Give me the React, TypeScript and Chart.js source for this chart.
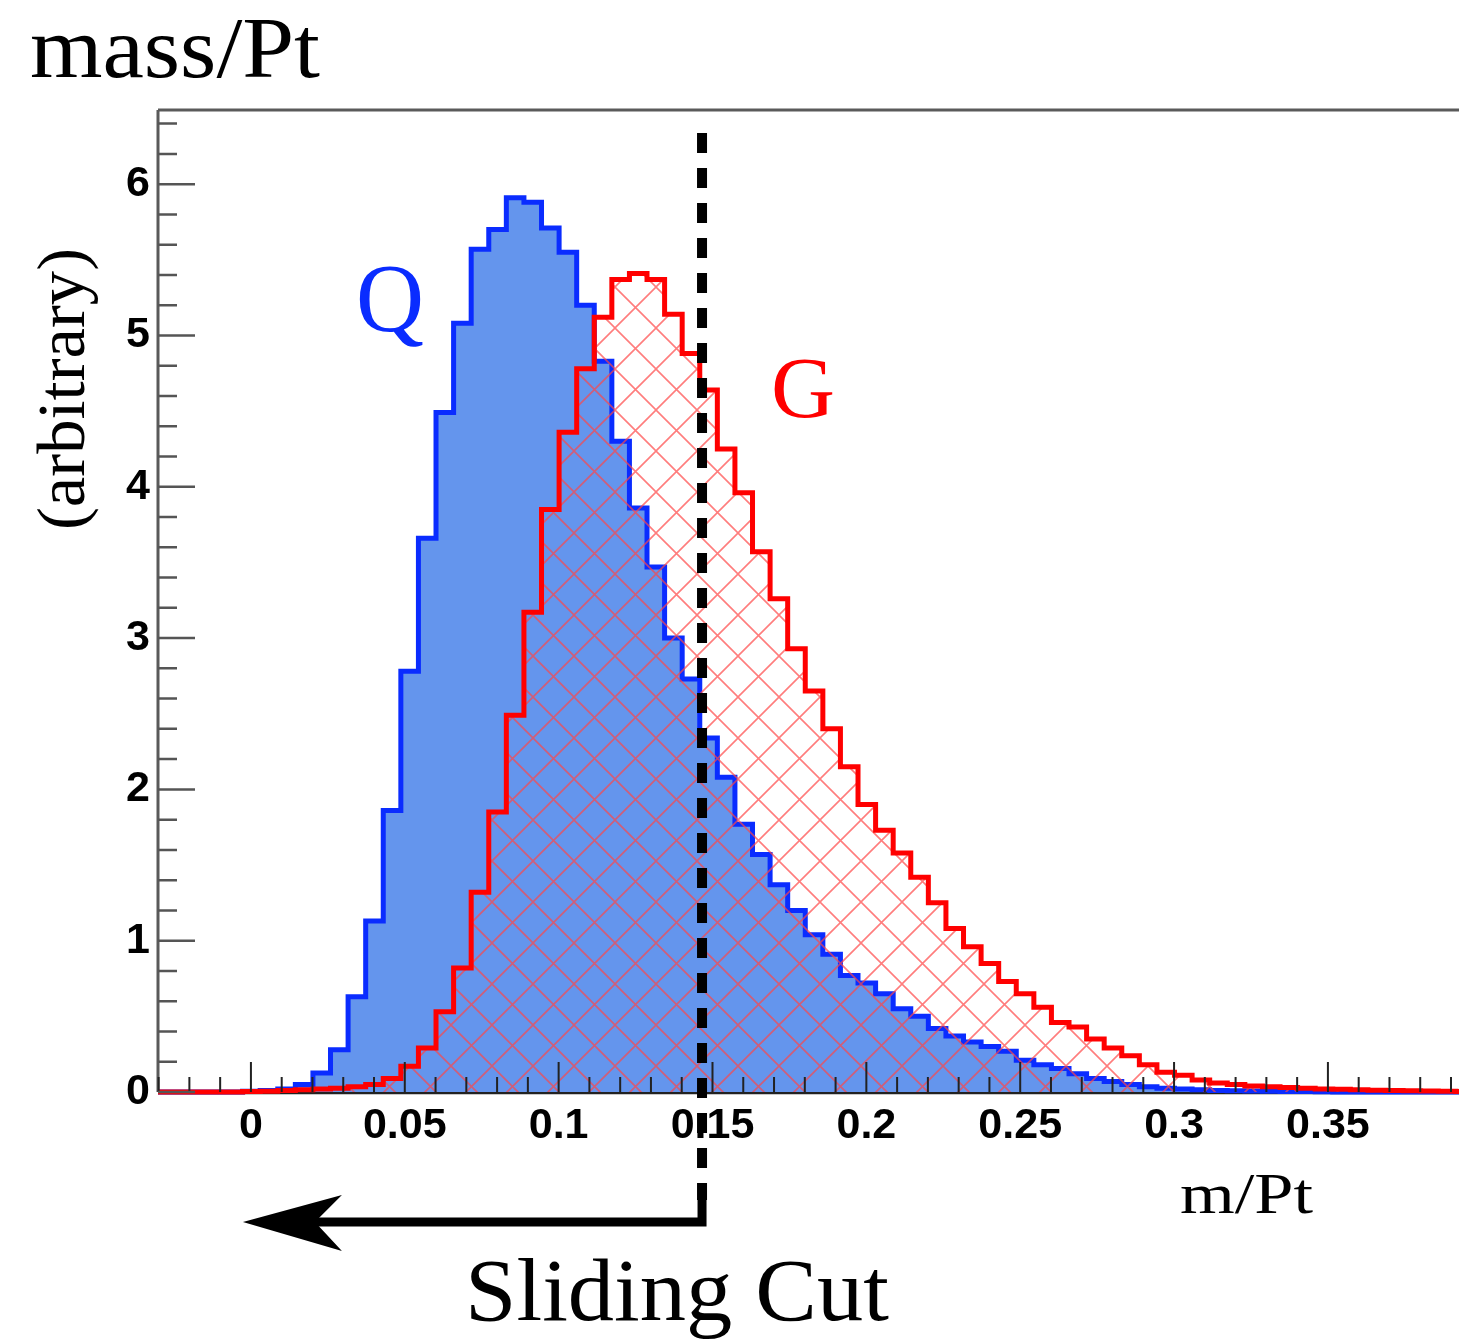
import React, { useEffect, useRef } from "react";
import { Chart, registerables } from "chart.js";

Chart.register(...registerables);

// ---- histogram binning ----
const BIN_WIDTH = 0.4 / 70;
const FIRST_EDGE = -0.03128;

// Q (quark) histogram, blue filled
const qValues = [
  0, 0, 0, 0, 0, 0.005, 0.01, 0.02, 0.05,
  0.125, 0.28, 0.63, 1.13, 1.86, 2.78, 3.66, 4.49, 5.08, 5.57,
  5.7, 5.91, 5.88, 5.71, 5.55, 5.2, 4.83, 4.3, 3.86, 3.47,
  3.0, 2.73, 2.34, 2.08, 1.77, 1.57, 1.37, 1.2, 1.04, 0.91,
  0.77, 0.72, 0.65, 0.55, 0.5, 0.42, 0.37, 0.33, 0.3, 0.27,
  0.21, 0.18, 0.155, 0.12, 0.09, 0.07, 0.05, 0.035, 0.025, 0.02,
  0.015, 0.01, 0.008, 0.006, 0.005, 0.004, 0.003, 0.002,
  0, 0, 0, 0, 0, 0, 0, 0,
];

// G (gluon) histogram, red hatched
const gValues = [
  0, 0, 0, 0, 0, 0.003, 0.005, 0.01, 0.015,
  0.02, 0.025, 0.035, 0.05, 0.09, 0.17, 0.29, 0.53, 0.82, 1.32,
  1.85, 2.49, 3.17, 3.85, 4.36, 4.78, 5.12, 5.37, 5.41, 5.37,
  5.14, 4.88, 4.64, 4.25, 3.96, 3.57, 3.26, 2.93, 2.65, 2.4,
  2.15, 1.9, 1.73, 1.58, 1.42, 1.25, 1.08, 0.96, 0.85, 0.73,
  0.65, 0.56, 0.46, 0.43, 0.35, 0.29, 0.24, 0.18, 0.13, 0.11,
  0.08, 0.06, 0.05, 0.04, 0.035, 0.03, 0.025, 0.02, 0.018, 0.015,
  0.012, 0.01, 0.008, 0.006, 0.005, 0.004,
];

const xTickLabels = [0, 0.05, 0.1, 0.15, 0.2, 0.25, 0.3, 0.35];
const yTickLabels = [0, 1, 2, 3, 4, 5, 6];

const X_MIN = -0.0302;
const X_MAX = 0.3926;
const Y_MIN = 0;
const Y_MAX = 6.49;

const CUT_VALUE = 0.1466;
const ARROW_TIP = -0.0026;

const W = 1459;
const H = 1341;

function histPoints(values: number[]) {
  const pts = values.map((v, i) => ({ x: FIRST_EDGE + i * BIN_WIDTH, y: v }));
  pts.push({ x: FIRST_EDGE + values.length * BIN_WIDTH, y: values[values.length - 1] });
  return pts;
}

function makeHatch(): CanvasPattern | string {
  const s = 41;
  const c = document.createElement("canvas");
  c.width = s;
  c.height = s;
  const g = c.getContext("2d");
  if (!g) return "rgba(255,0,0,0.2)";
  g.strokeStyle = "rgba(255,70,70,0.7)";
  g.lineWidth = 1.6;
  g.beginPath();
  for (const o of [-s, 0, s]) {
    g.moveTo(o, 0);
    g.lineTo(o + s, s);
    g.moveTo(o + s, 0);
    g.lineTo(o, s);
  }
  g.stroke();
  return g.createPattern(c, "repeat") || "rgba(255,0,0,0.2)";
}

function fitText(
  ctx: CanvasRenderingContext2D,
  text: string,
  x: number,
  y: number,
  font: string,
  color: string,
  width: number
) {
  ctx.save();
  ctx.font = font;
  const w = ctx.measureText(text).width;
  ctx.translate(x, y);
  ctx.scale(width / w, 1);
  ctx.fillStyle = color;
  ctx.textBaseline = "alphabetic";
  ctx.textAlign = "left";
  ctx.fillText(text, 0, 0);
  ctx.restore();
}

const frameTicksPlugin = {
  id: "frameTicks",
  beforeDatasetsDraw(chart: any) {
    const { ctx, chartArea: a } = chart;
    ctx.save();
    ctx.strokeStyle = "#5a5a5a";
    ctx.lineWidth = 3;
    ctx.beginPath();
    ctx.moveTo(a.left, a.top);
    ctx.lineTo(a.right, a.top);
    ctx.moveTo(a.left, a.top);
    ctx.lineTo(a.left, a.bottom);
    ctx.stroke();
    ctx.strokeStyle = "#222";
    ctx.lineWidth = 2.5;
    ctx.beginPath();
    ctx.moveTo(a.left, a.bottom + 1);
    ctx.lineTo(a.right, a.bottom + 1);
    ctx.stroke();
    ctx.restore();
  },
  afterDatasetsDraw(chart: any) {
    const { ctx, chartArea: a, scales } = chart;
    const xs = scales.x;
    const ys = scales.y;
    ctx.save();
    ctx.strokeStyle = "#222";
    ctx.lineWidth = 2;
    ctx.beginPath();
    for (let k = -3; k <= 39; k++) {
      const px = xs.getPixelForValue(k / 100);
      if (px < a.left - 0.5 || px > a.right) continue;
      const len = k % 5 === 0 ? 30 : 15;
      ctx.moveTo(px, a.bottom);
      ctx.lineTo(px, a.bottom - len);
    }
    ctx.stroke();
    ctx.strokeStyle = "#555";
    ctx.lineWidth = 2.5;
    ctx.beginPath();
    for (let k = 0; k <= 32; k++) {
      const py = ys.getPixelForValue(k * 0.2);
      if (py < a.top) continue;
      const len = k % 5 === 0 ? 37 : 19;
      ctx.moveTo(a.left, py);
      ctx.lineTo(a.left + len, py);
    }
    ctx.stroke();
    ctx.restore();
  },
  afterDraw(chart: any) {
    const { ctx, chartArea: a, scales } = chart;
    const xs = scales.x;
    const cutX = xs.getPixelForValue(CUT_VALUE);
    const tipX = xs.getPixelForValue(ARROW_TIP);
    const arrowY = 1222;

    ctx.save();
    // dashed cut line
    ctx.strokeStyle = "#000";
    ctx.lineWidth = 10;
    ctx.setLineDash([20, 15]);
    ctx.beginPath();
    ctx.moveTo(cutX, 133);
    ctx.lineTo(cutX, 1200);
    ctx.stroke();
    ctx.setLineDash([]);
    // corner + arrow shaft
    ctx.lineWidth = 9;
    ctx.lineCap = "butt";
    ctx.lineJoin = "miter";
    ctx.beginPath();
    ctx.moveTo(cutX, 1198);
    ctx.lineTo(cutX, arrowY);
    ctx.lineTo(tipX + 70, arrowY);
    ctx.stroke();
    // arrow head
    ctx.fillStyle = "#000";
    ctx.beginPath();
    ctx.moveTo(tipX, arrowY);
    ctx.lineTo(tipX + 99, arrowY - 27);
    ctx.lineTo(tipX + 72, arrowY);
    ctx.lineTo(tipX + 99, arrowY + 29);
    ctx.closePath();
    ctx.fill();
    ctx.restore();

    const serif = "'Liberation Serif', 'Times New Roman', serif";
    fitText(ctx, "mass/Pt", 30, 77, `86px ${serif}`, "#000", 290);
    fitText(ctx, "Sliding Cut", 465, 1320, `88px ${serif}`, "#000", 424);
    fitText(ctx, "m/Pt", 1180, 1213, `57px ${serif}`, "#000", 133);
    fitText(ctx, "Q", 356, 331, `98px ${serif}`, "#0a2cff", 68);
    fitText(ctx, "G", 771, 417, `86px ${serif}`, "#ff0000", 64);

    // rotated y title
    ctx.save();
    ctx.translate(84, 530);
    ctx.rotate(-Math.PI / 2);
    fitText(ctx, "(arbitrary)", 0, 0, `68px ${serif}`, "#000", 282);
    ctx.restore();
  },
};

export default function App() {
  const ref = useRef<HTMLCanvasElement | null>(null);

  useEffect(() => {
    const canvas = ref.current;
    if (!canvas) return;
    const hatch = makeHatch();
    const tickFont = { family: "'Liberation Sans', Arial, sans-serif", weight: "bold" as const, size: 43 };
    const chart = new Chart(canvas, {
      type: "line",
      data: {
        datasets: [
          {
            label: "Q",
            data: histPoints(qValues),
            borderColor: "#0a2cff",
            backgroundColor: "#6495ed",
            borderWidth: 5,
            fill: "origin",
            stepped: "before",
            pointRadius: 0,
            order: 2,
            clip: { left: 0, top: 5, right: 0, bottom: 5 } as any,
          },
          {
            label: "G",
            data: histPoints(gValues),
            borderColor: "#ff0000",
            backgroundColor: hatch as any,
            borderWidth: 5,
            fill: "origin",
            stepped: "before",
            pointRadius: 0,
            order: 1,
            clip: { left: 0, top: 5, right: 0, bottom: 5 } as any,
          },
        ],
      },
      options: {
        animation: false,
        responsive: false,
        devicePixelRatio: 1,
        layout: { padding: { top: 110, left: 0, right: 0, bottom: 0 } },
        plugins: {
          legend: { display: false },
          tooltip: { enabled: false },
        },
        elements: { line: { tension: 0, borderJoinStyle: "miter", borderCapStyle: "butt" } },
        scales: {
          x: {
            type: "linear",
            min: X_MIN,
            max: X_MAX,
            border: { display: false },
            grid: { display: false, drawTicks: false },
            ticks: {
              font: tickFont,
              color: "#000",
              padding: 8,
              autoSkip: false,
              maxRotation: 0,
              callback: (v: any) => String(+Number(v).toFixed(3)),
            },
            afterBuildTicks: (s: any) => {
              s.ticks = xTickLabels.map((v) => ({ value: v }));
            },
            afterFit: (s: any) => {
              s.height = H - 1092;
            },
          },
          y: {
            type: "linear",
            min: Y_MIN,
            max: Y_MAX,
            border: { display: false },
            grid: { display: false, drawTicks: false },
            ticks: {
              font: tickFont,
              color: "#000",
              padding: 8,
              autoSkip: false,
              callback: (v: any) => String(+Number(v).toFixed(2)),
            },
            afterBuildTicks: (s: any) => {
              s.ticks = yTickLabels.map((v) => ({ value: v }));
            },
            afterFit: (s: any) => {
              s.width = 158;
            },
          },
        },
      },
      plugins: [frameTicksPlugin],
    } as any);
    return () => chart.destroy();
  }, []);

  return (
    <div style={{ position: "absolute", left: 0, top: 0, width: W, height: H, background: "#fff" }}>
      <canvas ref={ref} width={W} height={H} style={{ display: "block", width: W, height: H }} />
    </div>
  );
}
